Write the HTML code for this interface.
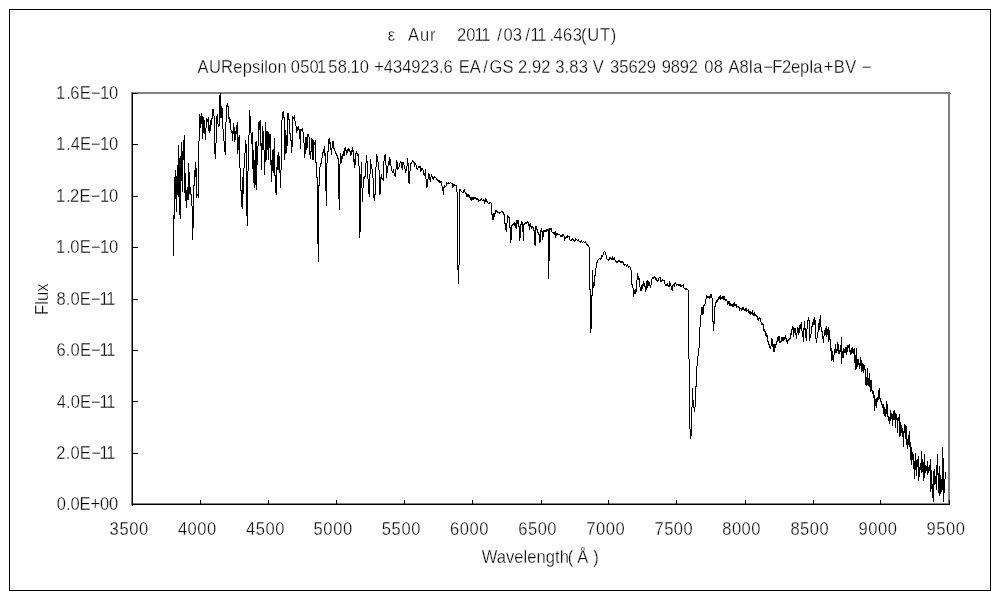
<!DOCTYPE html>
<html lang="ja">
<head>
<meta charset="utf-8">
<title>ε Aur 2011/03/11.463(UT)</title>
<style>
html,body{margin:0;padding:0;background:#fff;}
body{width:1000px;height:600px;overflow:hidden;}
svg{display:block;}
text{font-family:"Liberation Sans", "Noto Sans CJK JP", sans-serif;fill:#000;stroke:#fff;stroke-width:0.3px;stroke-linejoin:round;}
</style>
</head>
<body>
<svg width="1000" height="600" viewBox="0 0 1000 600">
<rect x="0" y="0" width="1000" height="600" fill="#fff"/>
<g shape-rendering="crispEdges">
<rect x="9.5" y="9.5" width="981" height="581" fill="none" stroke="#000" stroke-width="1"/>
<rect x="132" y="93" width="817" height="411" fill="none" stroke="#808080" stroke-width="2"/>
<rect x="950" y="93" width="1" height="1" fill="#909090"/>
<path d="M132.5 93V506M132 504.5H950" fill="none" stroke="#000" stroke-width="1"/>
<path d="M133 93.5h5M133 144.5h5M133 196.5h5M133 247.5h5M133 299.5h5M133 350.5h5M133 401.5h5M133 453.5h5M133 504.5h5M132.5 500v4M200.5 500v4M268.5 500v4M336.5 500v4M404.5 500v4M472.5 500v4M541.5 500v4M608.5 500v4M676.5 500v4M745.5 500v4M813.5 500v4M880.5 500v4M949.5 500v4" fill="none" stroke="#000" stroke-width="1"/>
</g>
<path shape-rendering="crispEdges" fill="none" stroke="#000" stroke-width="1" transform="translate(0.5,0)" d="M173 215v41M174 177v42M175 170v29M176 176v36M177 165v30M178 145v52M179 158v57M180 156v63M181 142v39M182 151v41M183 140v20M184 135v58M185 173v28M186 190v18M187 187v13M188 163v37M189 172v22M190 187v8M191 194v12M192 206v34M193 185v43M194 170v16M195 162v15M196 168v30M197 194v2M198 141v57M199 114v27M200 116v12M201 113v11M202 116v23M203 117v16M204 120v14M205 128v12M206 118v10M207 119v3M208 117v14M209 125v8M210 120v11M211 118v7M212 109v10M213 109v7M214 116v38M215 143v16M216 116v27M217 114v10M218 124v3M219 95v31M220 93v25M221 106v12M222 108v21M223 129v12M224 141v11M225 122v33M226 105v17M227 103v4M228 106v13M229 117v6M230 119v11M231 130v3M232 131v10M233 123v11M234 127v15M235 131v9M236 125v9M237 122v32M238 137v13M239 135v33M240 168v23M241 190v17M242 177v32M243 168v26M244 153v15M245 140v13M246 144v72M247 171v55M248 135v36M249 110v25M250 116v17M251 133v11M252 132v37M253 150v33M254 160v28M255 142v43M256 141v49M257 146v19M258 122v24M259 121v9M260 120v26M261 143v27M262 126v24M263 131v19M264 150v25M265 122v40M266 131v29M267 131v19M268 132v28M269 134v14M270 134v31M271 160v22M272 150v21M273 149v24M274 138v38M275 175v18M276 167v28M277 155v15M278 152v18M279 156v17M280 170v18M281 120v50M282 112v8M283 111v7M284 117v43M285 130v24M286 135v18M287 113v33M288 113v7M289 119v15M290 133v8M291 140v13M292 116v31M293 117v2M294 115v6M295 121v5M296 126v7M297 127v4M298 126v4M299 129v10M300 129v20M301 129v2M302 128v4M303 132v11M304 143v15M305 137v17M306 137v13M307 134v14M308 134v3M309 137v18M310 151v8M311 138v14M312 139v21M313 140v20M314 142v3M315 140v23M316 162v16M317 177v67M318 185v77M319 167v19M320 163v4M321 158v6M322 152v6M323 149v4M324 146v10M325 153v38M326 163v43M327 151v12M328 139v13M329 138v6M330 142v8M331 148v7M332 141v7M333 141v8M334 148v3M335 151v3M336 153v3M337 155v4M338 158v41M339 164v46M340 153v11M341 156v7M342 154v5M343 151v5M344 148v8M345 147v4M346 150v5M347 149v4M348 148v3M349 149v3M350 151v5M351 150v5M352 147v5M353 150v12M354 159v9M355 153v12M356 151v3M357 153v3M358 154v12M359 166v72M360 174v58M361 162v26M362 188v14M363 177v11M364 176v3M365 163v14M366 155v8M367 161v18M368 179v15M369 174v23M370 159v15M371 164v5M372 169v9M373 178v20M374 194v7M375 167v28M376 154v13M377 156v6M378 162v8M379 170v25M380 177v17M381 174v5M382 178v2M383 161v20M384 155v6M385 154v11M386 165v13M387 166v7M388 161v5M389 157v8M390 159v7M391 166v5M392 171v2M393 169v4M394 173v3M395 169v8M396 160v9M397 162v8M398 167v2M399 163v4M400 161v2M401 162v6M402 162v8M403 162v3M404 165v4M405 169v4M406 166v5M407 158v8M408 163v20M409 171v13M410 163v8M411 162v2M412 160v2M413 161v2M414 162v5M415 163v2M416 165v4M417 168v2M418 166v2M419 166v2M420 166v6M421 168v3M422 168v2M423 170v5M424 173v3M425 169v10M426 179v9M427 179v8M428 173v6M429 174v6M430 177v5M431 174v3M432 176v3M433 177v3M434 176v2M435 177v1M436 178v2M437 179v2M438 180v2M439 180v3M440 181v2M441 181v5M442 186v5M443 187v8M444 185v3M445 186v1M446 182v4M447 183v1M448 182v2M449 183v1M450 182v1M451 183v1M452 183v5M453 184v3M454 184v2M455 185v1M456 185v7M457 192v78M458 265v19M459 189v76M460 189v2M461 191v1M462 192v1M463 190v3M464 189v3M465 192v2M466 193v4M467 194v3M468 194v3M469 195v3M470 197v3M471 197v4M472 197v3M473 197v3M474 197v2M475 197v2M476 198v2M477 198v2M478 199v3M479 200v1M480 199v2M481 198v2M482 200v1M483 199v2M484 200v4M485 198v4M486 199v3M487 201v2M488 203v1M489 202v2M490 202v1M491 203v12M492 214v6M493 213v7M494 213v4M495 210v4M496 210v2M497 211v2M498 212v1M499 212v2M500 212v1M501 211v1M502 211v2M503 212v3M504 214v10M505 223v7M506 223v9M507 215v8M508 216v2M509 217v11M510 227v16M511 225v15M512 224v2M513 223v2M514 222v4M515 223v5M516 220v9M517 220v4M518 220v7M519 226v15M520 224v14M521 221v4M522 222v10M523 224v17M524 223v2M525 222v2M526 222v2M527 221v2M528 222v4M529 224v6M530 223v4M531 226v3M532 226v2M533 227v4M534 230v15M535 226v20M536 226v4M537 229v4M538 232v3M539 234v9M540 230v12M541 228v4M542 231v9M543 230v7M544 230v2M545 230v2M546 229v3M547 229v2M548 229v50M549 228v33M550 228v2M551 228v4M552 232v1M553 232v2M554 232v3M555 231v7M556 233v3M557 233v2M558 234v1M559 234v1M560 235v2M561 235v2M562 234v3M563 234v2M564 236v5M565 237v2M566 236v2M567 235v3M568 236v1M569 236v4M570 240v1M571 239v2M572 238v2M573 239v2M574 240v2M575 238v3M576 239v1M577 240v1M578 239v2M579 241v1M580 241v2M581 240v2M582 242v1M583 241v1M584 242v1M585 241v2M586 243v2M587 244v2M588 245v2M589 247v43M590 289v44M591 295v34M592 270v26M593 282v6M594 275v11M595 268v8M596 262v6M597 260v3M598 259v1M599 258v1M600 258v2M601 255v4M602 255v2M603 252v3M604 251v1M605 252v3M606 255v4M607 259v1M608 259v2M609 257v3M610 257v2M611 258v2M612 256v4M613 258v2M614 257v3M615 260v2M616 261v2M617 261v2M618 260v2M619 260v2M620 261v2M621 261v2M622 261v2M623 262v3M624 264v2M625 264v1M626 265v2M627 264v2M628 266v2M629 266v1M630 267v3M631 270v15M632 284v4M633 288v9M634 290v4M635 289v5M636 280v12M637 273v7M638 276v4M639 278v9M640 287v4M641 285v6M642 284v5M643 281v5M644 283v4M645 286v6M646 281v9M647 280v8M648 281v5M649 282v4M650 285v3M651 279v6M652 277v2M653 277v2M654 276v2M655 277v3M656 278v3M657 280v2M658 278v3M659 277v1M660 277v5M661 280v2M662 279v2M663 280v1M664 280v4M665 284v2M666 284v2M667 283v3M668 285v2M669 281v6M670 283v3M671 286v4M672 285v6M673 284v2M674 283v4M675 282v2M676 284v2M677 284v1M678 284v2M679 284v2M680 284v3M681 285v2M682 285v1M683 284v4M684 288v1M685 288v2M686 288v2M687 289v1M688 290v69M689 359v70M690 429v10M691 407v29M692 388v19M693 400v8M694 407v5M695 386v21M696 366v21M697 356v10M698 348v8M699 327v21M700 315v12M701 307v8M702 307v8M703 305v9M704 304v2M705 299v5M706 295v4M707 296v2M708 296v2M709 296v3M710 294v4M711 294v4M712 298v24M713 321v10M714 306v18M715 302v5M716 300v3M717 299v3M718 297v3M719 296v3M720 295v5M721 297v2M722 296v3M723 296v4M724 296v4M725 299v2M726 299v2M727 301v4M728 301v3M729 301v5M730 303v3M731 304v2M732 304v3M733 303v4M734 302v4M735 304v2M736 304v4M737 306v1M738 306v2M739 307v4M740 308v1M741 308v3M742 307v3M743 307v3M744 309v2M745 308v3M746 308v4M747 310v1M748 309v4M749 311v3M750 311v4M751 312v2M752 310v5M753 313v3M754 312v4M755 314v2M756 315v2M757 316v4M758 318v3M759 317v2M760 318v4M761 322v3M762 323v2M763 324v7M764 329v3M765 331v5M766 333v4M767 335v7M768 341v4M769 344v4M770 346v3M771 338v8M772 339v8M773 344v8M774 344v8M775 344v4M776 341v4M777 337v5M778 336v5M779 336v7M780 341v2M781 337v5M782 337v4M783 337v4M784 337v3M785 335v4M786 338v4M787 340v4M788 339v2M789 338v2M790 333v6M791 329v6M792 326v4M793 327v10M794 328v5M795 328v7M796 333v6M797 327v6M798 328v7M799 325v8M800 324v5M801 322v9M802 331v6M803 328v14M804 321v9M805 328v10M806 329v12M807 320v9M808 317v4M809 320v21M810 334v4M811 326v8M812 322v5M813 319v6M814 317v8M815 320v19M816 338v5M817 332v6M818 323v9M819 319v11M820 315v12M821 327v5M822 331v8M823 336v7M824 330v6M825 328v7M826 326v11M827 329v6M828 327v15M829 330v10M830 339v12M831 348v13M832 351v9M833 355v7M834 349v6M835 344v9M836 349v4M837 342v9M838 344v10M839 350v4M840 345v7M841 337v27M842 351v7M843 348v10M844 349v4M845 347v6M846 347v8M847 345v7M848 345v3M849 344v8M850 350v5M851 348v6M852 347v6M853 349v5M854 348v15M855 355v15M856 348v21M857 359v8M858 359v6M859 363v6M860 357v9M861 360v12M862 363v8M863 364v9M864 365v5M865 369v16M866 377v9M867 368v17M868 378v8M869 373v14M870 380v12M871 380v11M872 390v4M873 391v7M874 395v16M875 399v7M876 398v10M877 397v5M878 390v10M879 388v11M880 398v4M881 401v4M882 404v4M883 404v10M884 407v9M885 409v8M886 401v13M887 404v13M888 416v5M889 417v7M890 410v11M891 413v6M892 414v12M893 411v9M894 410v10M895 413v15M896 414v6M897 418v15M898 417v4M899 414v23M900 422v14M901 425v8M902 428v9M903 431v16M904 424v9M905 425v14M906 426v19M907 439v10M908 435v10M909 431v16M910 442v18M911 447v18M912 452v8M913 454v15M914 461v18M915 453v17M916 460v16M917 459v8M918 456v25M919 467v10M920 463v7M921 451v22M922 459v13M923 462v19M924 454v24M925 465v8M926 466v5M927 461v14M928 467v6M929 465v6M930 459v33M931 470v19M932 484v14M933 471v31M934 469v16M935 476v8M936 465v25M937 454v21M938 473v20M939 466v30M940 475v19M941 479v13M942 447v43M943 458v44M944 479v14M945 472v7"/>
<g>
<text transform="scale(0.92,1)" x="421.57 427.01 443.49 456.6 467.42 472.86 496.84 506.77 515.74 523.19 540.43 547.34 557.36 570.86 576.61 584.06 597.23 601.68 612.07 622.48 631.49 638.2 652.12 663.77" y="41" font-size="18">ε Aur 2011/03/11.463(UT)</text>
<text transform="scale(0.92,1)" x="214.82 227.07 240.34 253.57 263.78 273.99 283.12 287.2 291.35 301.57 307 316.01 326.24 336.49 344.56 356.69 367.16 376.57 381.04 391 396.43 406.69 417.16 427.15 437.13 447.1 457.09 467.07 477.05 482.03 487.46 498.74 510.48 525.21 532 546.28 551.71 563.04 573.09 578.15 588.24 593.67 603.53 613.68 618.84 629.06 634.5 644.37 649.8 662.98 673 683.02 693.05 703.06 708.5 719.39 729.15 738.92 748.69 754.13 765.47 775.7 781.13 791.74 803.71 813.71 818.68 829.75 839.44 850.11 859.83 869.54 879.31 884.09 895.36 906.19 918.89 924.32 936.67" y="73" font-size="18">AURepsilon 050158.10 +434923.6 EA/GS 2.92 3.83 V 35629 9892 08 A8Ia−F2epIa+BV −</text>
<text transform="scale(0.92,1)" x="60.87 72.07 76.33 86.6 98.9 108.8 118.56" y="99" font-size="18">1.6E−10</text>
<text transform="scale(0.92,1)" x="60.87 72.07 76.83 86.9 98.99 108.8 118.56" y="150" font-size="18">1.4E−10</text>
<text transform="scale(0.92,1)" x="60.87 72.07 76.12 86.39 98.67 108.8 118.56" y="202" font-size="18">1.2E−10</text>
<text transform="scale(0.92,1)" x="60.87 72.07 76.46 86.72 99.01 108.8 118.56" y="253" font-size="18">1.0E−10</text>
<text transform="scale(0.92,1)" x="61.33 71.44 76.56 86.74 98.91 108.12 115.57" y="305" font-size="18">8.0E−11</text>
<text transform="scale(0.92,1)" x="61.38 71.51 76.64 86.85 99.04 108.12 115.57" y="356" font-size="18">6.0E−11</text>
<text transform="scale(0.92,1)" x="61.76 71.81 76.86 86.95 99.02 108.12 115.57" y="408" font-size="18">4.0E−11</text>
<text transform="scale(0.92,1)" x="61.24 71.4 76.57 86.82 99.07 108.12 115.57" y="459" font-size="18">2.0E−11</text>
<text transform="scale(0.92,1)" x="61.74 71.64 76.55 86.42 98.28 108.66 118.55" y="510" font-size="18">0.0E+00</text>
<text transform="scale(0.92,1)" x="119.16 129.8 140.46 151.12" y="535" font-size="18">3500</text>
<text transform="scale(0.92,1)" x="193.39 203.93 214.48 225.03" y="535" font-size="18">4000</text>
<text transform="scale(0.92,1)" x="267.48 277.99 288.53 299.06" y="535" font-size="18">4500</text>
<text transform="scale(0.92,1)" x="340.81 351.49 362.19 372.88" y="535" font-size="18">5000</text>
<text transform="scale(0.92,1)" x="414.94 425.62 436.32 447.02" y="535" font-size="18">5500</text>
<text transform="scale(0.92,1)" x="489.17 499.73 510.31 520.89" y="535" font-size="18">6000</text>
<text transform="scale(0.92,1)" x="563.25 573.81 584.39 594.97" y="535" font-size="18">6500</text>
<text transform="scale(0.92,1)" x="637.27 647.82 658.39 668.96" y="535" font-size="18">7000</text>
<text transform="scale(0.92,1)" x="711.46 721.92 732.4 742.88" y="535" font-size="18">7500</text>
<text transform="scale(0.92,1)" x="785.11 795.6 806.11 816.62" y="535" font-size="18">8000</text>
<text transform="scale(0.92,1)" x="859.14 869.7 880.28 890.86" y="535" font-size="18">8500</text>
<text transform="scale(0.92,1)" x="933.07 943.69 954.32 964.96" y="535" font-size="18">9000</text>
<text transform="scale(0.92,1)" x="1007.11 1017.73 1028.36 1038.99" y="535" font-size="18">9500</text>
<text transform="scale(0.92,1)" x="523.55 539.95 550.03 559.09 569.13 573.18 583.26 593.34 603.39 608.45 617.27 627.36 644.86" y="563" font-size="18">Wavelength(Å)</text>
<text x="0" y="0" font-size="18" text-anchor="start" textLength="31.5" lengthAdjust="spacingAndGlyphs" transform="translate(47.6,315) rotate(-90)">Flux</text>
</g>
</svg>
</body>
</html>
